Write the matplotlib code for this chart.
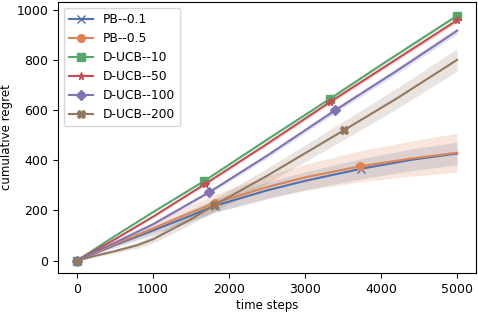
import matplotlib
matplotlib.use("Agg")
import matplotlib.pyplot as plt
import numpy as np

# colours (seaborn "deep")
c_blue, c_orange, c_green = '#4C72B0', '#DD8452', '#55A868'
c_red, c_purple, c_brown = '#C44E52', '#8172B3', '#937860'

# PB--0.1
pb1_t = [0, 500, 1000, 1500, 1820, 2500, 3000, 3736, 4400, 5000]
pb1_y = [0, 62, 120, 180, 219, 280, 318, 366, 402, 427]
pb1_s = [0, 10, 18, 24, 27, 33, 36, 40, 43, 45]
# PB--0.5
pb5_t = [0, 500, 1000, 1500, 1820, 2500, 3000, 3723, 4400, 5000]
pb5_y = [0, 66, 128, 192, 230, 293, 332, 376, 407, 430]
pb5_s = [0, 10, 20, 30, 35, 45, 52, 62, 70, 78]
# D-UCB--10
d10_t = [0, 500, 1000, 1667, 2500, 3333, 4000, 5000]
d10_y = [0, 98, 193, 316, 482, 646, 780, 976]
d10_s = [0, 2, 3, 4, 5, 5, 6, 6]
# D-UCB--50
d50_t = [0, 500, 1000, 1689, 2500, 3329, 4000, 5000]
d50_y = [0, 85, 175, 306, 465, 632, 763, 958]
d50_s = [0, 3, 5, 6, 7, 8, 8, 9]
# D-UCB--100
d100_t = [0, 500, 1000, 1737, 2500, 3395, 4200, 5000]
d100_y = [0, 72, 145, 272, 418, 599, 755, 916]
d100_s = [0, 4, 6, 8, 10, 11, 12, 13]
# D-UCB--200
d200_t = [0, 250, 500, 800, 1000, 1250, 1500, 1800, 2500, 3508, 4200, 5000]
d200_y = [0, 20, 38, 62, 85, 125, 165, 220, 338, 519, 645, 800]
d200_s = [0, 5, 8, 12, 15, 18, 20, 25, 30, 37, 41, 45]

series = [
    ('PB--0.1', pb1_t, pb1_y, pb1_s, c_blue, 'x', [0, 4, 7]),
    ('PB--0.5', pb5_t, pb5_y, pb5_s, c_orange, 'o', [0, 4, 7]),
    ('D-UCB--10', d10_t, d10_y, d10_s, c_green, 's', [0, 3, 5, 7]),
    ('D-UCB--50', d50_t, d50_y, d50_s, c_red, '*', [0, 3, 5, 7]),
    ('D-UCB--100', d100_t, d100_y, d100_s, c_purple, 'D', [0, 3, 5]),
    ('D-UCB--200', d200_t, d200_y, d200_s, c_brown, 'X', [0, 7, 9]),
]

plt.rcParams['font.size'] = 9
fig, ax = plt.subplots(figsize=(4.78, 3.12), dpi=100)
fig.subplots_adjust(left=0.121, right=0.996, top=0.994, bottom=0.125)

for name, t, y, s, col, mk, idx in series:
    t = np.array(t); y = np.array(y); s = np.array(s)
    ax.plot(t, y, color=col, marker=mk, markevery=idx, markersize=5.5, lw=1.5, label=name)
    ax.fill_between(t, y - s, y + s, color=col, alpha=0.2, lw=0)

ax.set_xlabel('time steps', fontsize=8.5, labelpad=2)
ax.set_ylabel('cumulative regret', fontsize=8.5, labelpad=2)
ax.legend(loc='upper left', fontsize=8.8)

plt.savefig('out.png')
